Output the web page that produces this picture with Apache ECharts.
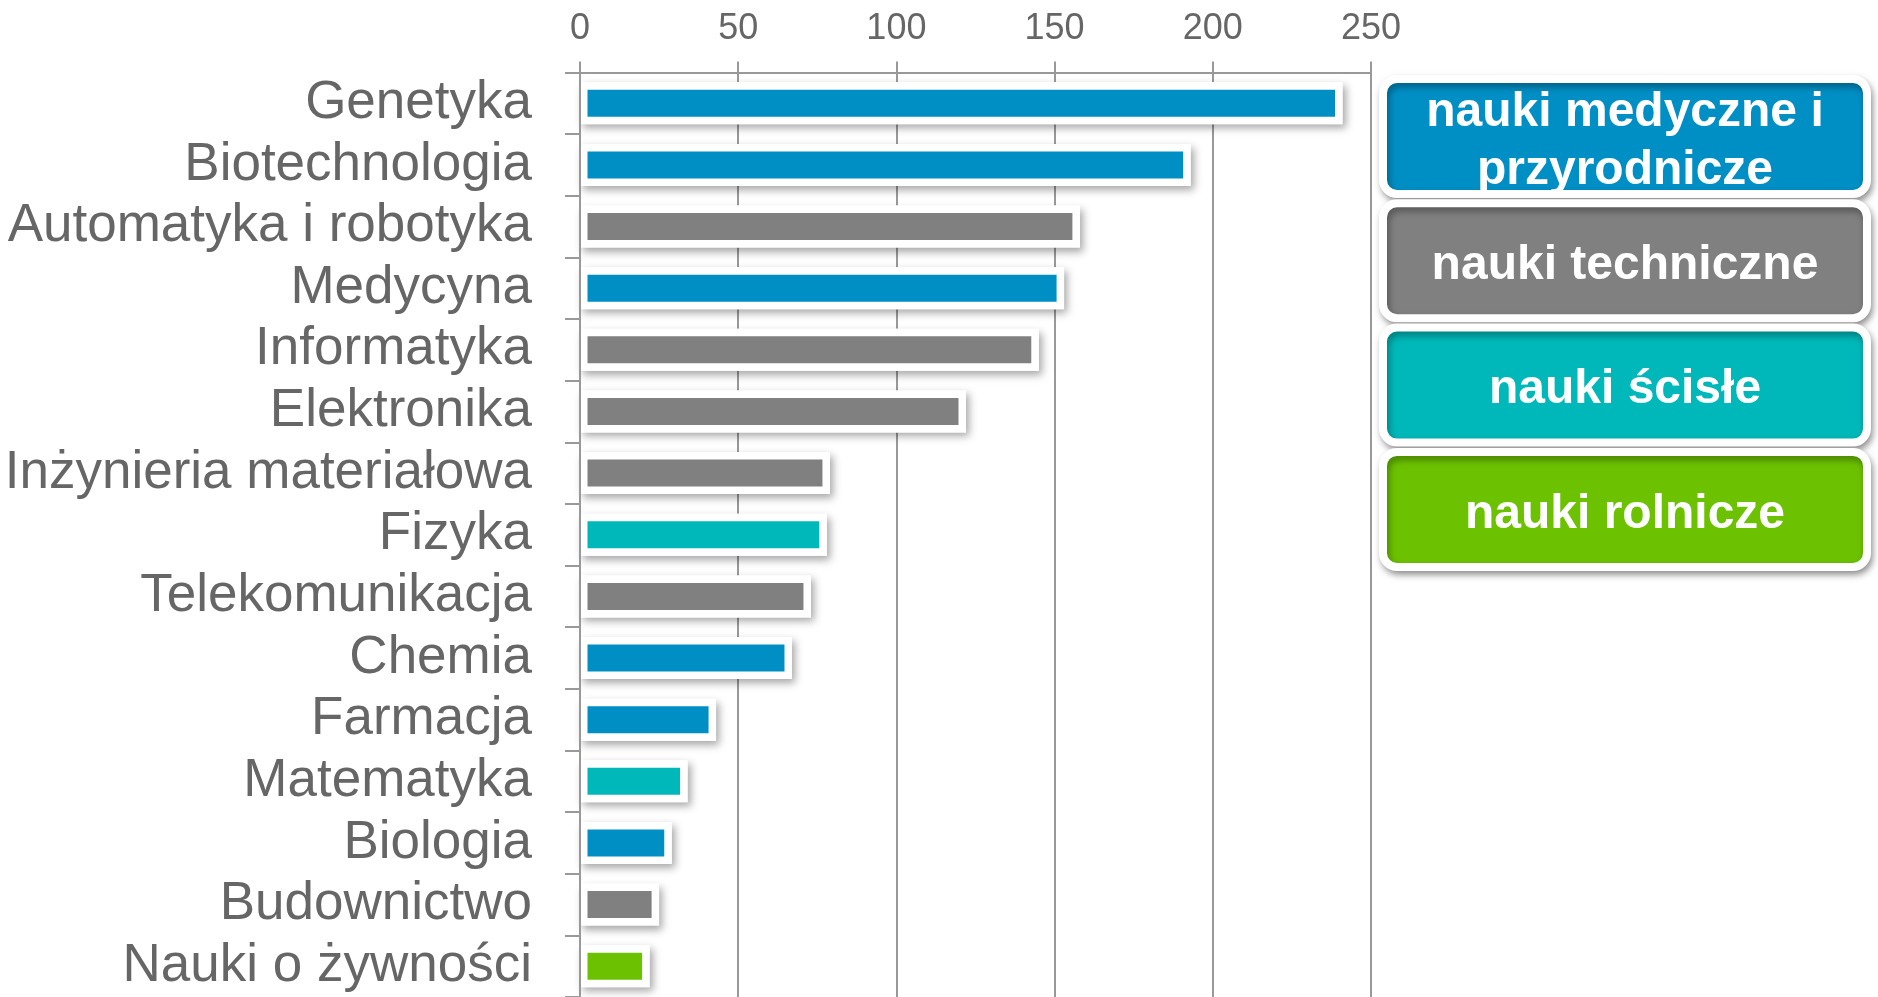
<!DOCTYPE html>
<html>
<head>
<meta charset="utf-8">
<script src="https://cdn.jsdelivr.net/npm/echarts@6/dist/echarts.min.js"></script>
<style>
  html, body { margin: 0; padding: 0; background: #fff; }
  #chart { width: 1878px; height: 997px; }
</style>
</head>
<body>
<div id="chart"></div>
<script>
// kierunki (od góry)
const categories = ['Genetyka', 'Biotechnologia', 'Automatyka i robotyka', 'Medycyna', 'Informatyka',
  'Elektronika', 'Inżynieria materiałowa', 'Fizyka', 'Telekomunikacja', 'Chemia',
  'Farmacja', 'Matematyka', 'Biologia', 'Budownictwo', 'Nauki o żywności'];
const values = [241, 193, 158, 153, 145, 122, 79, 78, 73, 67, 43, 34, 29, 25, 22];
// 0 medyczne i przyrodnicze, 1 techniczne, 2 ścisłe, 3 rolnicze
const groupOf = [0, 0, 1, 0, 1, 1, 1, 2, 1, 0, 0, 2, 0, 1, 3];
const groupNames = ['nauki medyczne i\nprzyrodnicze', 'nauki techniczne', 'nauki ścisłe', 'nauki rolnicze'];
const groupColors = ['#008fc5', '#808080', '#00b8b9', '#6cc200'];
const xTicks = [0, 50, 100, 150, 200, 250];

const axisGray = '#999999';
const labelGray = '#666666';
const font = 'Liberation Sans, Arial, sans-serif';

const barW = 42;
const border = 7.5;

// białe tło pod słupkiem z cieniem (osobno, żeby cień nie padał na kolor)
const panel = {
  name: 'tło',
  type: 'bar',
  barWidth: barW,
  barGap: '-100%',
  z: 1,
  data: values,
  silent: true,
  itemStyle: {
    color: '#fff',
    shadowBlur: 8,
    shadowOffsetX: 3,
    shadowOffsetY: 4,
    shadowColor: 'rgba(0,0,0,0.35)'
  }
};

// jedna seria na grupę, puste tam gdzie kierunek należy do innej grupy
// (ramka w echarts rysowana jest do środka słupka)
const series = [panel].concat(groupNames.map((name, g) => ({
  name: name,
  type: 'bar',
  barWidth: barW,
  barGap: '-100%',
  z: 2,
  data: values.map((v, i) => (groupOf[i] === g ? v : null)),
  itemStyle: {
    color: groupColors[g],
    borderColor: '#fff',
    borderWidth: border
  },
  emphasis: { disabled: true }
})));

// legenda jako kolorowe kafelki po prawej
const boxTop = 79, boxStep = 124.3;
const legendBoxes = groupNames.map((name, g) => ({
  type: 'group',
  children: [
    {
      type: 'rect',
      shape: { x: 1383, y: boxTop + g * boxStep, width: 484, height: 115, r: 14 },
      style: {
        fill: groupColors[g],
        stroke: '#fff',
        lineWidth: 8,
        shadowBlur: 7,
        shadowOffsetX: 2,
        shadowOffsetY: 4,
        shadowColor: 'rgba(0,0,0,0.35)'
      }
    },
    {
      type: 'text',
      style: {
        text: name,
        x: 1625,
        y: boxTop + g * boxStep + 62.5,
        fill: '#fff',
        font: 'bold 48px ' + font,
        align: 'center',
        verticalAlign: 'middle',
        lineHeight: 58
      }
    }
  ]
}));

const chart = echarts.init(document.getElementById('chart'));
chart.setOption({
  backgroundColor: '#fff',
  animation: false,
  grid: { left: 580, top: 72.5, width: 791, height: 927.5 },
  xAxis: {
    type: 'value',
    position: 'top',
    min: xTicks[0],
    max: xTicks[xTicks.length - 1],
    interval: xTicks[1] - xTicks[0],
    axisLine: { show: true, lineStyle: { color: axisGray, width: 2 } },
    axisTick: { show: true, length: 11, lineStyle: { color: axisGray, width: 2 } },
    splitLine: { show: true, lineStyle: { color: axisGray, width: 2 } },
    axisLabel: { fontSize: 36, color: labelGray, fontFamily: font, margin: 25 }
  },
  yAxis: {
    type: 'category',
    inverse: true,
    data: categories,
    z: 3,
    axisLine: { show: true, lineStyle: { color: axisGray, width: 2 } },
    axisTick: { show: true, length: 15, lineStyle: { color: axisGray, width: 2 } },
    axisLabel: {
      interval: 0, fontSize: 53, color: labelGray, fontFamily: font, margin: 48,
      padding: [5, 0, 0, 0]
    }
  },
  series: series,
  graphic: legendBoxes
});
</script>
</body>
</html>
